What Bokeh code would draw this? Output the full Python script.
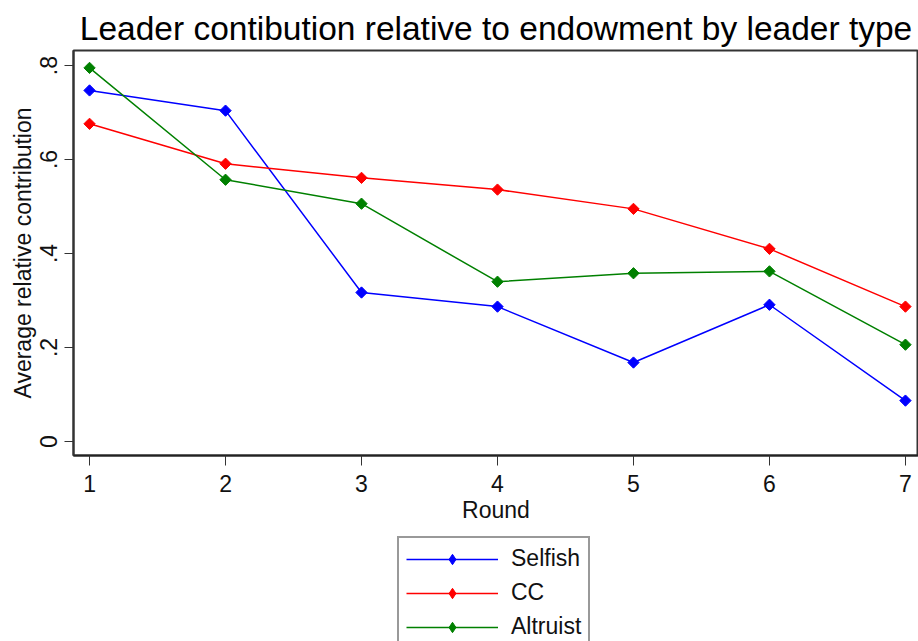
from bokeh.plotting import figure
from bokeh.layouts import column
from bokeh.models import Legend, LegendItem, FixedTicker, Range1d
from bokeh.embed import file_html
from bokeh.resources import INLINE
import math

rounds = [1, 2, 3, 4, 5, 6, 7]
selfish = [0.747, 0.704, 0.317, 0.287, 0.168, 0.291, 0.087]
cc = [0.676, 0.591, 0.561, 0.536, 0.495, 0.410, 0.287]
altruist = [0.795, 0.557, 0.506, 0.340, 0.358, 0.362, 0.206]
series_names = ["Selfish", "CC", "Altruist"]
series_values = [selfish, cc, altruist]
colors = ["#0000ff", "#ff0000", "#008000"]
y_ticks = [0, 0.2, 0.4, 0.6, 0.8]
y_tick_labels = ["0", ".2", ".4", ".6", ".8"]
x_ticks = [1, 2, 3, 4, 5, 6, 7]

FONT = "Liberation Sans"

p = figure(frame_width=845, frame_height=405, output_backend="svg",
           toolbar_location=None,
           x_range=Range1d(0.882, 7.096), y_range=Range1d(-0.0298, 0.832),
           min_border_left=73, min_border_right=0, min_border_top=50,
           min_border_bottom=70, background_fill_color="white",
           border_fill_color="white")

p.title.text = "Leader contibution relative to endowment by leader type"
p.title.text_font = FONT
p.title.text_font_size = "33.5px"
p.title.text_font_style = "normal"
p.title.align = "center"
p.title.text_color = "#000000"
p.title.standoff = 8

p.xgrid.visible = False
p.ygrid.visible = False
p.outline_line_color = "#333333"
p.outline_line_width = 2

xa = p.xaxis[0]
xa.ticker = FixedTicker(ticks=x_ticks)
xa.axis_label = "Round"
xa.axis_line_color = "#222222"
xa.axis_line_width = 2
xa.major_tick_out = 10
xa.major_tick_in = 0
xa.minor_tick_out = 0
xa.minor_tick_in = 0
xa.major_tick_line_color = "#333333"
xa.major_label_standoff = 9
xa.axis_label_standoff = 2
xa.major_label_text_font = FONT
xa.major_label_text_font_size = "23px"
xa.major_label_text_color = "#111111"
xa.axis_label_text_font = FONT
xa.axis_label_text_font_size = "23px"
xa.axis_label_text_font_style = "normal"
xa.axis_label_text_color = "#111111"

ya = p.yaxis[0]
ya.ticker = FixedTicker(ticks=y_ticks)
ya.major_label_overrides = {t: l for t, l in zip(y_ticks, y_tick_labels)}
ya.major_label_orientation = "vertical"
ya.axis_label = "Average relative contribution"
ya.axis_line_color = "#333333"
ya.axis_line_width = 2
ya.major_tick_out = 9
ya.major_tick_in = 0
ya.minor_tick_out = 0
ya.minor_tick_in = 0
ya.major_tick_line_color = "#333333"
ya.major_label_standoff = 7
ya.axis_label_standoff = 2
ya.major_label_text_font = FONT
ya.major_label_text_font_size = "23px"
ya.major_label_text_color = "#111111"
ya.axis_label_text_font = FONT
ya.axis_label_text_font_size = "23px"
ya.axis_label_text_font_style = "normal"
ya.axis_label_text_color = "#111111"

for vals, col in zip(series_values, colors):
    p.line(rounds, vals, line_color=col, line_width=1.5)
    p.scatter(rounds, vals, marker="square", angle=math.pi / 4, size=8,
              fill_color=col, line_color=col)

# legend strip below the chart (its own renderers sit outside its visible range)
lg = figure(frame_width=918, frame_height=116, output_backend="svg",
            toolbar_location=None, x_range=Range1d(100, 101),
            y_range=Range1d(100, 101),
            min_border_left=0, min_border_right=0, min_border_top=0,
            min_border_bottom=0, background_fill_color="white",
            border_fill_color="white", outline_line_color=None)
lg.axis.visible = False
lg.grid.visible = False

items = []
for name, vals, col in zip(series_names, series_values, colors):
    ln = lg.line(rounds, vals, line_color=col, line_width=1.5)
    sc = lg.scatter(rounds, vals, marker="diamond", size=13,
                    fill_color=col, line_color=col)
    items.append(LegendItem(label=name, renderers=[ln, sc]))

legend = Legend(items=items, location=(397, -8), orientation="vertical",
                border_line_color="#333333", border_line_width=2,
                label_text_font=FONT, label_text_font_size="23px",
                label_text_color="#111111",
                glyph_width=92, glyph_height=26, label_height=26,
                label_standoff=13, spacing=7, padding=7, margin=0)
lg.add_layout(legend, "center")

layout = column(p, lg, spacing=0)
open("out.html", "w").write(file_html(layout, INLINE))
